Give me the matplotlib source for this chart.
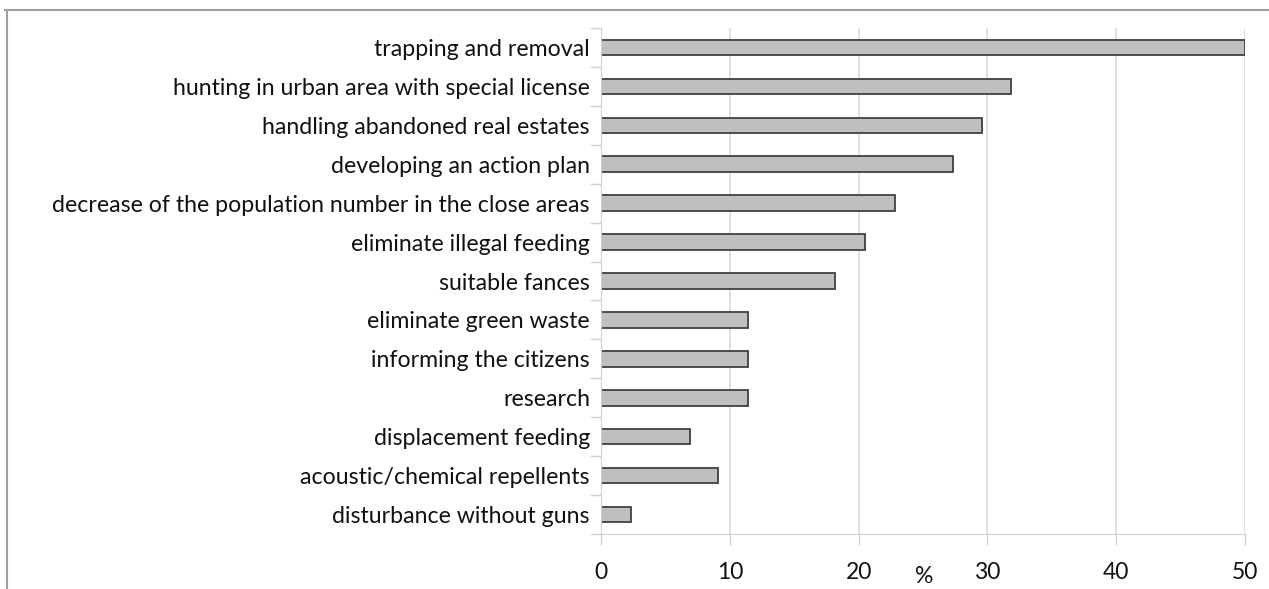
import matplotlib
matplotlib.use("Agg")
import matplotlib.pyplot as plt
from matplotlib.lines import Line2D
import numpy as np

categories = [
    "trapping and removal",
    "hunting in urban area with special license",
    "handling abandoned real estates",
    "developing an action plan",
    "decrease of the population number in the close areas",
    "eliminate illegal feeding",
    "suitable fances",
    "eliminate green waste",
    "informing the citizens",
    "research",
    "displacement feeding",
    "acoustic/chemical repellents",
    "disturbance without guns",
]
values = [50.0, 31.8, 29.6, 27.3, 22.8, 20.5, 18.2, 11.4, 11.4, 11.4, 6.9, 9.1, 2.3]
xticks = [0, 10, 20, 30, 40, 50]

plt.rcParams['font.family'] = ['Lato', 'DejaVu Sans']

fig = plt.figure(figsize=(12.69, 5.89), dpi=100)
ax = fig.add_axes([601/1269, 1-534/589, (1245-601)/1269, (534-28)/589])

n = len(categories)
y = np.arange(n)
ax.barh(y, values, height=0.4, color="#BFBFBF", edgecolor="#404040", linewidth=1.3, zorder=3)
ax.set_ylim(n-0.5, -0.5)
ax.set_xlim(0, 50)
ax.set_xticks(xticks)
ax.set_xticklabels([str(t) for t in xticks], fontsize=16.5, color="#111111")
ax.set_yticks(y)
ax.set_yticklabels(categories, fontsize=16.7, color="#111111")
ax.set_yticks(np.arange(n+1)-0.5, minor=True)
ax.tick_params(axis='y', which='major', length=0, pad=8)
ax.tick_params(axis='y', which='minor', length=8, color="#D0D0D0", width=1)
ax.tick_params(axis='x', which='major', length=8, color="#D0D0D0", width=1, pad=12)
ax.grid(axis='x', color="#D9D9D9", linewidth=1.2, zorder=0)
for s in ['top', 'right']:
    ax.spines[s].set_visible(False)
ax.spines['left'].set_color("#D0D0D0")
ax.spines['bottom'].set_color("#D0D0D0")
ax.spines['left'].set_zorder(4)
ax.set_xlabel("%", fontsize=16.5, color="#111111", labelpad=0)
ax.xaxis.set_label_coords((924-601)/(1245-601), -(587-534)/(534-28))
ax.xaxis.label.set_va('bottom')

# outer frame (partial)
fig.add_artist(Line2D([5/1269, 1.0], [1-9.5/589, 1-9.5/589], color="#A0A0A0", linewidth=1.5, transform=fig.transFigure))
fig.add_artist(Line2D([7/1269, 7/1269], [1-9.5/589, 0.0], color="#A0A0A0", linewidth=1.5, transform=fig.transFigure))

fig.savefig("out.png", dpi=100)
